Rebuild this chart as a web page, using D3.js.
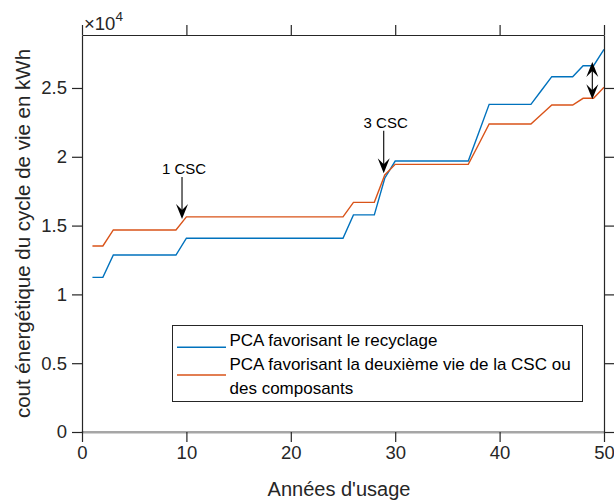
<!DOCTYPE html>
<html><head><meta charset="utf-8">
<script src="https://cdn.jsdelivr.net/npm/d3@7"></script>
<style>body{margin:0;background:#fff}svg{display:block}text{font-family:"Liberation Sans",Arial,Helvetica,sans-serif}</style>
</head><body>
<script>
const years = [1,2,3,4,5,6,7,8,9,10,11,12,13,14,15,16,17,18,19,20,21,22,23,24,25,26,27,28,29,30,31,32,33,34,35,36,37,38,39,40,41,42,43,44,45,46,47,48,49,50];
const recyclage = [11240,11240,
  12860,12860,12860,12860,12860,12860,12860,
  14080,14080,14080,14080,14080,14080,14080,14080,14080,14080,14080,14080,14080,14080,14080,14080,
  15780,15780,15780, 18440,
  19690,19690,19690,19690,19690,19690,19690,19690, 21750,
  23810,23810,23810,23810,23810, 24820,
  25820,25820,25820, 26620,26620, 27810];
const deuxiemeVie = [13520,13520,
  14680,14680,14680,14680,14680,14680,14680,
  15630,15630,15630,15630,15630,15630,15630,15630,15630,15630,15630,15630,15630,15630,15630,15630,
  16690,16690,16690, 18680,
  19450,19450,19450,19450,19450,19450,19450,19450, 20910,
  22380,22380,22380,22380,22380, 23070,
  23760,23760,23760, 24250,24250, 25050];
const seriesNames = ["PCA favorisant le recyclage", "PCA favorisant la deuxième vie de la CSC ou des composants"];
const xTicks = [0,10,20,30,40,50];
const yTicks = [0,5000,10000,15000,20000,25000];
const xLabel = "Années d'usage";
const yLabel = "cout énergétique du cycle de vie en kWh";
// annotations in data coordinates
const arrowNotes = [
  {label:"1 CSC", tx:9.77, ty:19190, x:9.58, y1:18530, y2:15480},
  {label:"3 CSC", tx:29.09, ty:22550, x:28.9, y1:21900, y2:18800}
];
const doubleArrow = {x:48.88, y1:26890, y2:24180};

const W=614,H=500;
const colors=["#0072BD","#D95319"];
const ink="#262626";
const svg=d3.select("body").append("svg").attr("width",W).attr("height",H);
const x=d3.scaleLinear().domain([0,50]).range([82,604]);
const y=d3.scaleLinear().domain([0,28850]).range([432,35]);

// gray zero line
svg.append("line").attr("x1",x(0)).attr("x2",x(50)).attr("y1",y(0)).attr("y2",y(0))
  .attr("stroke","#a6a6a6").attr("stroke-width",2.2);

const line=d3.line().x((d,i)=>x(years[i])).y(d=>y(d));
[recyclage,deuxiemeVie].forEach((s,k)=>{
  svg.append("path").attr("d",line(s)).attr("fill","none").attr("stroke",colors[k]).attr("stroke-width",1.4);
});

// axes
const tl=10;
const gB=svg.append("g").attr("transform",`translate(0,${y(0)})`)
  .call(d3.axisBottom(x).tickValues(xTicks).tickSize(tl).tickSizeOuter(0).tickPadding(4));
const gT=svg.append("g").attr("transform",`translate(0,${y.range()[1]})`)
  .call(d3.axisTop(x).tickValues(xTicks).tickSize(tl).tickSizeOuter(0).tickFormat(""));
const gL=svg.append("g").attr("transform",`translate(${x(0)},0)`)
  .call(d3.axisLeft(y).tickValues(yTicks).tickSize(tl).tickSizeOuter(0).tickPadding(5).tickFormat(d=>d/1e4));
const gR=svg.append("g").attr("transform",`translate(${x(50)},0)`)
  .call(d3.axisRight(y).tickValues(yTicks).tickSize(tl).tickSizeOuter(0).tickFormat(""));
[gB,gT,gL,gR].forEach(g=>{
  g.selectAll("path.domain").attr("stroke",ink).attr("stroke-width",1.2);
  g.selectAll(".tick line").attr("stroke",ink).attr("stroke-width",1.2);
  g.selectAll(".tick text").attr("fill",ink).style("font-size","18.5px").style("font-family",'"Liberation Sans",Arial,sans-serif');
});
gB.select("path.domain").attr("stroke","#a6a6a6").attr("stroke-width",2.2);
gB.selectAll(".tick").filter(d=>d===0).select("line").attr("y1",-1);

// x10^4
const ex=svg.append("text").attr("x",x(0)+2).attr("y",30).attr("fill",ink).style("font-size","18.5px");
ex.append("tspan").text("×10");
ex.append("tspan").attr("dy",-9).style("font-size","13.5px").text("4");

// axis labels
svg.append("text").attr("x",(x(0)+x(50))/2-4).attr("y",496).attr("text-anchor","middle")
  .attr("fill",ink).style("font-size","20px").text(xLabel);
svg.append("text").attr("transform",`translate(30,${(y.range()[0]+y.range()[1])/2}) rotate(-90)`)
  .attr("text-anchor","middle").attr("fill",ink).style("font-size","20.5px").text(yLabel);

// arrows
function head(px,py,dir){ // dir: 1 pointing down, -1 pointing up
  const L=15,w=6,n=9;
  return `M${px},${py}L${px-w},${py-dir*L}L${px},${py-dir*n}L${px+w},${py-dir*L}Z`;
}
arrowNotes.forEach(a=>{
  svg.append("text").attr("x",x(a.tx)).attr("y",y(a.ty)+6).attr("text-anchor","middle")
    .attr("fill","#000").style("font-size","15px").text(a.label);
  svg.append("line").attr("x1",x(a.x)).attr("x2",x(a.x)).attr("y1",y(a.y1)).attr("y2",y(a.y2)-8)
    .attr("stroke","#000").attr("stroke-width",1.1);
  svg.append("path").attr("d",head(x(a.x),y(a.y2),1)).attr("fill","#000");
});
svg.append("line").attr("x1",x(doubleArrow.x)).attr("x2",x(doubleArrow.x))
  .attr("y1",y(doubleArrow.y1)+8).attr("y2",y(doubleArrow.y2)-8).attr("stroke","#000").attr("stroke-width",1.1);
svg.append("path").attr("d",head(x(doubleArrow.x),y(doubleArrow.y2),1)).attr("fill","#000");
svg.append("path").attr("d",head(x(doubleArrow.x),y(doubleArrow.y1),-1)).attr("fill","#000");

// legend
const lg=svg.append("g");
lg.append("rect").attr("x",172.5).attr("y",325.5).attr("width",410).attr("height",76)
  .attr("fill","#fff").attr("stroke",ink).attr("stroke-width",1);
const rows=[[seriesNames[0]],["PCA favorisant la deuxième vie de la CSC ou","des composants"]];
const lineY=[347.3,375];
const textY=[[346],[370,393.5]];
rows.forEach((r,k)=>{
  lg.append("line").attr("x1",177).attr("x2",226).attr("y1",lineY[k]).attr("y2",lineY[k])
    .attr("stroke",colors[k]).attr("stroke-width",1.4);
  r.forEach((t,j)=>{
    lg.append("text").attr("x",229.5).attr("y",textY[k][j]).attr("fill","#000").style("font-size","17px").text(t);
  });
});
</script>
</body></html>
